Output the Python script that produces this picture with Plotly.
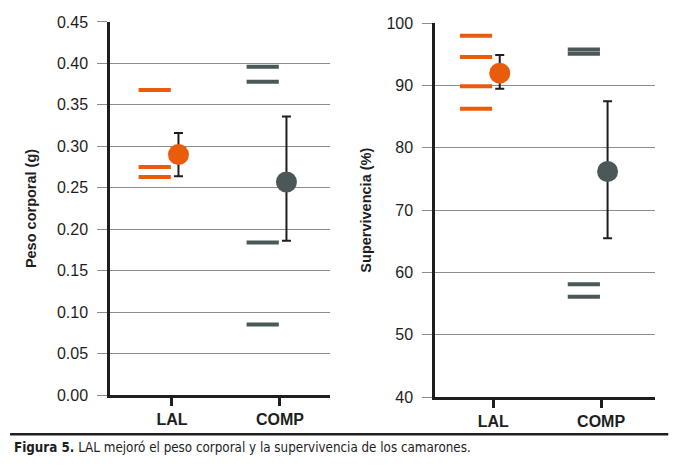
import plotly.graph_objects as go

# Data
categories = ["LAL", "COMP"]

# Peso corporal (g): individual tanks
peso_lal = [0.368, 0.275, 0.263]
peso_comp = [0.396, 0.378, 0.184, 0.085]
# mean and error bar ends
peso_mean = [0.290, 0.257]
peso_hi = [0.316, 0.336]
peso_lo = [0.264, 0.186]

# Supervivencia (%): individual tanks
superv_lal = [98.0, 94.6, 89.9, 86.3]
superv_comp = [95.8, 95.1, 58.1, 56.1]
superv_mean = [92.0, 76.2]
superv_hi = [94.9, 87.5]
superv_lo = [89.5, 65.5]

ORANGE = "#EA5B0C"
GREY = "#4B5857"
GRID = "#8C8C8C"
FONT = "Liberation Sans, Arial, sans-serif"

DASH_OFF = -0.16
DOT_OFF = 0.06

fig = go.Figure()


def add_panel(fig, xa, ya, lal_pts, comp_pts, means, hi, lo):
    # individual values as short horizontal dashes
    for i, (pts, col) in enumerate([(lal_pts, ORANGE), (comp_pts, GREY)]):
        fig.add_trace(go.Scatter(
            x=[i + DASH_OFF] * len(pts), y=pts, mode="markers",
            marker=dict(symbol="line-ew", size=23,
                        line=dict(width=4, color=col)),
            xaxis=xa, yaxis=ya, showlegend=False, hoverinfo="y"))
    # means with error bars
    for i, col in enumerate([ORANGE, GREY]):
        fig.add_trace(go.Scatter(
            x=[i + DOT_OFF], y=[means[i]], mode="markers",
            marker=dict(size=21, color=col),
            error_y=dict(type="data", symmetric=False,
                         array=[hi[i] - means[i]],
                         arrayminus=[means[i] - lo[i]],
                         color="#1E1E1E", thickness=2, width=4.5),
            xaxis=xa, yaxis=ya, showlegend=False, hoverinfo="y"))


add_panel(fig, "x", "y", peso_lal, peso_comp, peso_mean, peso_hi, peso_lo)
add_panel(fig, "x2", "y2", superv_lal, superv_comp, superv_mean, superv_hi, superv_lo)

xaxis_common = dict(
    tickmode="array", tickvals=[0, 1], ticktext=[f"<b>{c}</b>" for c in categories],
    showline=True, linecolor="#1E1E1E", linewidth=2.5,
    ticks="outside", ticklen=8, tickwidth=2.5, tickcolor="#1E1E1E",
    showgrid=False, zeroline=False, automargin=False,
    tickfont=dict(family=FONT, size=16, color="#1E1E1E"),
)
yaxis_common = dict(
    showline=True, linecolor="#1E1E1E", linewidth=2.5,
    showgrid=True, gridcolor=GRID, gridwidth=1.2,
    ticks="outside", ticklen=10, tickcolor=GRID, tickwidth=1.2,
    ticklabelstandoff=6,
    zeroline=False, automargin=False,
    tickfont=dict(family=FONT, size=16, color="#1E1E1E"),
)

# the page body adds an 8px offset, so domains are shifted to compensate
fig.update_layout(
    width=680, height=474,
    margin=dict(l=0, r=0, t=0, b=0),
    paper_bgcolor="white", plot_bgcolor="white",
    xaxis=dict(domain=[0.150, 0.4735], range=[-0.574, 1.463], **xaxis_common),
    xaxis2=dict(domain=[0.628, 0.9515], range=[-0.54, 1.50], anchor="y2", **xaxis_common),
    yaxis=dict(domain=[0.1835, 0.9705], range=[0, 0.45], dtick=0.05, tickformat=".2f",
               title=dict(text="<b>Peso corporal (g)</b>", standoff=17,
                          font=dict(family=FONT, size=14.5, color="#1E1E1E")),
               **yaxis_common),
    yaxis2=dict(domain=[0.1793, 0.9677], range=[40, 100], dtick=10, anchor="x2",
                title=dict(text="<b>Supervivencia (%)</b>", standoff=12,
                           font=dict(family=FONT, size=14.5, color="#1E1E1E")),
                **yaxis_common),
    shapes=[dict(type="line", xref="paper", yref="paper",
                 x0=0.003, x1=0.971, y0=0.101, y1=0.101,
                 line=dict(color="#1E1E1E", width=2.5))],
    annotations=[dict(
        text="<b>Figura 5.</b> LAL mejoró el peso corporal y la supervivencia de los camarones.",
        xref="paper", yref="paper", x=0.006, y=0.093, xanchor="left", yanchor="top",
        showarrow=False,
        font=dict(family="Liberation Sans Narrow, DejaVu Sans Condensed, sans-serif",
                  size=13.3, color="#1E1E1E"))],
)

fig.write_html("out.html")
